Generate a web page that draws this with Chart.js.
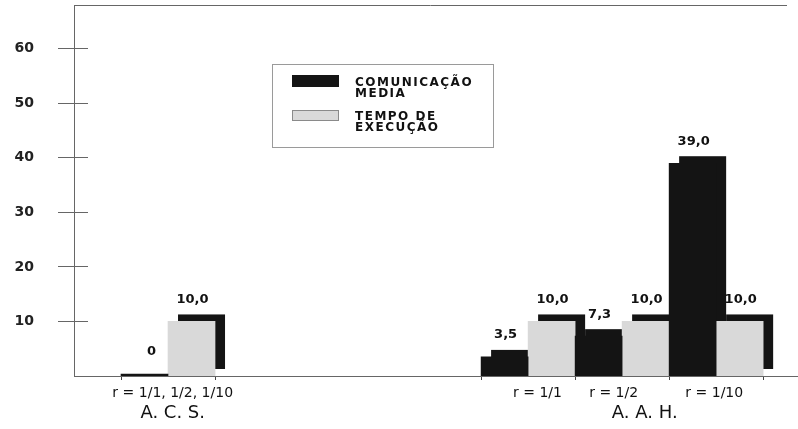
<!DOCTYPE html>
<html>
<head>
<meta charset="utf-8">
<script src="https://cdn.jsdelivr.net/npm/chart.js@4.4.1/dist/chart.umd.min.js"></script>
<style>
    body { margin: 0; background: #fff; }
</style>
</head>
<body>
<canvas id="grafico" width="798" height="429"></canvas>
<script>
// Dados
const series = ['COMUNICAÇÃO\nMEDIA', 'TEMPO DE\nEXECUÇÃO'];
const comunicacao = [0, 3.5, 7.3, 39.0];
const tempoExecucao = [10.0, 10.0, 10.0, 10.0];
const yTicks = [10, 20, 30, 40, 50, 60];
const tickLabels = ['r = 1/1, 1/2, 1/10', 'r = 1/1', 'r = 1/2', 'r = 1/10'];
const groupLabels = ['A. C. S.', 'A. A. H.'];

// Posições no eixo x (em unidades de categoria)
const slots = [1, 4.83, 5.83, 6.83];
const tickAt = [1.05, 4.93, 5.74, 6.81];
const groupAt = [1.05, 6.07];
const edges = [0.5, 1.5, 4.33, 5.33, 6.33, 7.33];

const PRETO = '#141414';
const CINZA = '#d9d9d9';
const LINHA = '#666666';
const FONTE = "'DejaVu Sans', sans-serif";
const DX = 10, DY = -7;

function pontos(valores) {
    return valores.map((v, i) => ({ x: slots[i], y: v }));
}

// Sombra "3D" atrás de cada barra
const sombra = {
    id: 'sombra',
    beforeDatasetsDraw(chart) {
        const ctx = chart.ctx;
        ctx.save();
        ctx.fillStyle = PRETO;
        chart.data.datasets.forEach((ds, d) => {
            chart.getDatasetMeta(d).data.forEach((bar, i) => {
                if (ds.data[i].y === 0) return;
                const p = bar.getProps(['x', 'y', 'base', 'width'], true);
                ctx.fillRect(p.x - p.width / 2 + DX, p.y + DY, p.width, p.base - p.y);
            });
        });
        ctx.restore();
    },
    afterDatasetsDraw(chart) {
        // valores em cima das barras
        const ctx = chart.ctx;
        ctx.save();
        ctx.font = 'bold 13px ' + FONTE;
        ctx.fillStyle = '#111';
        ctx.textAlign = 'center';
        ctx.textBaseline = 'middle';
        chart.data.datasets.forEach((ds, d) => {
            chart.getDatasetMeta(d).data.forEach((bar, i) => {
                const v = ds.data[i].y;
                const txt = v === 0 ? '0' : v.toFixed(1).replace('.', ',');
                const dx = v === 0 ? 7 : 1;
                ctx.fillText(txt, bar.x + dx, bar.y + DY - 15);
            });
        });
        ctx.restore();
    }
};

// Moldura, marcas do eixo y e legenda
const moldura = {
    id: 'moldura',
    afterDraw(chart) {
        const ctx = chart.ctx;
        const area = chart.chartArea;
        const y = chart.scales.y;
        ctx.save();
        ctx.strokeStyle = LINHA;
        ctx.lineWidth = 1;
        ctx.beginPath();
        ctx.moveTo(area.left, area.top + 0.5);
        ctx.lineTo(787, area.top + 0.5);
        y.ticks.forEach(t => {
            const py = Math.round(y.getPixelForValue(t.value) - 0.5) + 0.5;
            ctx.moveTo(area.left, py);
            ctx.lineTo(area.left + 14, py);
        });
        ctx.stroke();

        // legenda
        ctx.strokeStyle = '#9a9a9a';
        ctx.strokeRect(272.5, 64.5, 221, 83);
        const caixas = [[292, 75, 12], [292, 110, 11]];
        const linhasY = [[83, 94], [117, 128]];
        chart.data.datasets.forEach((ds, d) => {
            const [bx, by, bh] = caixas[d];
            ctx.fillStyle = ds.backgroundColor;
            ctx.fillRect(bx, by, 47, bh);
            if (d === 1) {
                ctx.strokeStyle = '#8a8a8a';
                ctx.strokeRect(bx + 0.5, by + 0.5, 46, bh - 1);
            }
            ctx.fillStyle = '#111';
            ctx.font = 'bold 12px ' + FONTE;
            ctx.letterSpacing = '1.5px';
            ctx.textBaseline = 'middle';
            ds.label.split('\n').forEach((linha, k) => {
                ctx.fillText(linha, 355, linhasY[d][k]);
            });
        });
        ctx.restore();
    }
};

function eixoX(scale) {
    const ticks = [];
    edges.forEach(v => ticks.push({ value: v, text: '', kind: 'edge' }));
    tickAt.forEach((v, i) => ticks.push({ value: v, text: tickLabels[i], kind: 'label' }));
    groupAt.forEach((v, i) => ticks.push({ value: v, text: ['', groupLabels[i]], kind: 'group' }));
    scale.ticks = ticks;
}

function semPadding(s) {
    s.paddingTop = 0;
    s.paddingBottom = 0;
    s.paddingLeft = 0;
    s.paddingRight = 0;
}

const ctx = document.getElementById('grafico').getContext('2d');
const grafico = new Chart(ctx, {
    type: 'bar',
    data: {
        datasets: [{
            label: series[0],
            data: pontos(comunicacao),
            backgroundColor: PRETO,
            minBarLength: 2
        }, {
            label: series[1],
            data: pontos(tempoExecucao),
            backgroundColor: CINZA
        }]
    },
    options: {
        responsive: false,
        animation: false,
        devicePixelRatio: 1,
        layout: { padding: { top: 5, right: 1, left: 0, bottom: 0 } },
        datasets: { bar: { categoryPercentage: 1, barPercentage: 1, xAxisID: 'x' } },
        plugins: {
            legend: { display: false },
            tooltip: { enabled: false }
        },
        scales: {
            x: {
                type: 'linear',
                display: false,
                offset: false,
                grid: { offset: false },
                min: 0,
                max: 7.69,
                afterBuildTicks: s => { s.ticks = []; },
                afterFit: semPadding
            },
            xl: {
                type: 'linear',
                position: 'bottom',
                offset: false,
                min: 0,
                max: 7.69,
                afterBuildTicks: eixoX,
                afterFit: s => { semPadding(s); s.height = 53; },
                border: { color: LINHA, width: 1 },
                grid: {
                    offset: false,
                    drawOnChartArea: false,
                    tickLength: 4,
                    color: c => (c.tick && c.tick.kind === 'edge') ? '#444' : 'rgba(0,0,0,0)'
                },
                ticks: {
                    autoSkip: false,
                    maxRotation: 0,
                    minRotation: 0,
                    padding: 5,
                    color: '#111',
                    callback: (v, i, t) => t[i].text,
                    font: c => (c.tick && c.tick.kind === 'group')
                        ? { family: FONTE, size: 18, lineHeight: 1.05 }
                        : { family: FONTE, size: 14 }
                }
            },
            y: {
                min: 0,
                max: 68,
                afterBuildTicks: s => { s.ticks = yTicks.map(v => ({ value: v })); },
                afterFit: s => { semPadding(s); s.width = 74; },
                border: { color: LINHA, width: 1 },
                grid: { drawOnChartArea: false, tickLength: 16, color: LINHA },
                ticks: {
                    padding: 24,
                    color: '#222',
                    font: { family: FONTE, size: 14, weight: 'bold' }
                }
            }
        }
    },
    plugins: [sombra, moldura]
});
</script>
</body>
</html>
